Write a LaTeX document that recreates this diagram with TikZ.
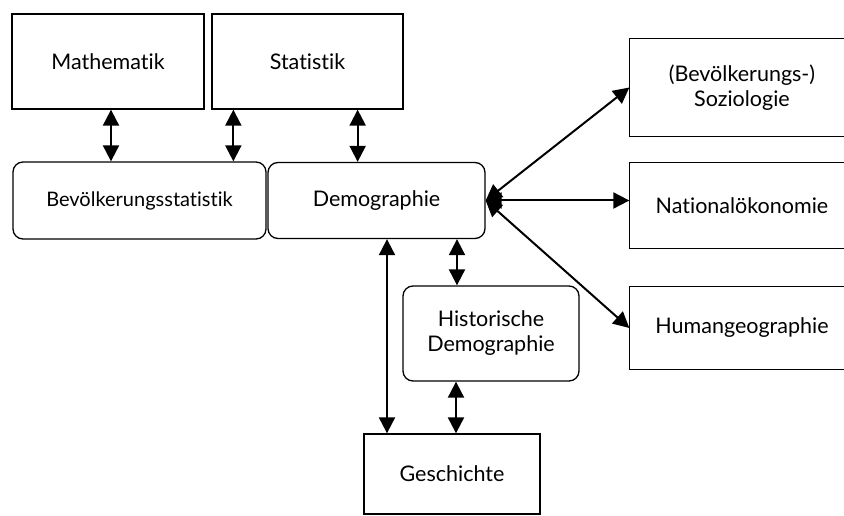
\documentclass[tikz,border=0pt]{standalone}
\usepackage{fontspec}
\setmainfont{Lato}[Ligatures={NoCommon}]
\usetikzlibrary{arrows.meta}

\tikzset{
	box/.style={draw, line width=1.3pt, inner sep=0pt, align=center,
		font=\fontsize{21.5}{25}\selectfont},
	rbox/.style={box, rounded corners=10pt},
	cutbox/.style={box, draw=none},
	frame/.style={line width=1.3pt},
	dbl/.style={{Triangle[length=16pt,width=16pt]}-{Triangle[length=16pt,width=16pt]}, line width=2pt}
}

\begin{document}
\begin{tikzpicture}[x=1pt,y=-1pt]
			\useasboundingbox (0,0) rectangle (844,516);
			\clip (0,0) rectangle (844,516);
			\node [box, minimum width=192pt, minimum height=95pt] (math) at (108,61.5) {Mathematik};
			\node [box, minimum width=191pt, minimum height=95pt] (stat) at (307.5,61.5) {Statistik};
			\node [rbox, minimum width=253pt, minimum height=77pt, font=\fontsize{20}{24}\selectfont] (bevstat) at (139.5,200.5) {Bevölkerungsstatistik};
			\node [rbox, minimum width=217pt, minimum height=76pt] (demo) at (376.5,200.5) {Demographie};
			\node [cutbox, minimum width=224pt, minimum height=97pt] (sozio) at (742,87.5) {(Bevölkerungs-)\\Soziologie};
			\node [cutbox, minimum width=224pt, minimum height=85pt] (natoek) at (742,205.5) {Nationalökonomie};
			\node [cutbox, minimum width=224pt, minimum height=82pt] (humgeo) at (742,328) {Humangeographie};
			\node [rbox, minimum width=176pt, minimum height=95pt] (histdemo) at (491,333.5) {Historische\\Demographie};
			\node [box, minimum width=176pt, minimum height=80pt] (gesch) at (452,474) {Geschichte};
			% right boxes run off the page
			\draw [frame] (sozio.north west) rectangle ([xshift=60pt]sozio.south east);
			\draw [frame] (natoek.north west) rectangle ([xshift=60pt]natoek.south east);
			\draw [frame] (humgeo.north west) rectangle ([xshift=60pt]humgeo.south east);
			\draw [dbl] ([xshift=3pt]math.south) -- ([xshift=3pt]math.south |- bevstat.north);
			\draw [dbl] ([xshift=22pt]stat.south west) -- ([xshift=22pt]stat.south west |- bevstat.north);
			\draw [dbl] ([xshift=-46pt]stat.south east) -- ([xshift=-46pt]stat.south east |- demo.north);
			\draw [dbl] (demo.east) -- (sozio.west);
			\draw [dbl] (demo.east) -- (demo.east -| natoek.west);
			\draw [dbl] (demo.east) -- (humgeo.west);
			\draw [dbl] ([xshift=-34pt]histdemo.north |- demo.south) -- ([xshift=-34pt]histdemo.north);
			\draw [dbl] ([xshift=-65pt]gesch.north |- demo.south) -- ([xshift=-65pt]gesch.north);
			\draw [dbl] ([xshift=4pt]gesch.north |- histdemo.south) -- ([xshift=4pt]gesch.north);
	\end{tikzpicture}
\end{document}
